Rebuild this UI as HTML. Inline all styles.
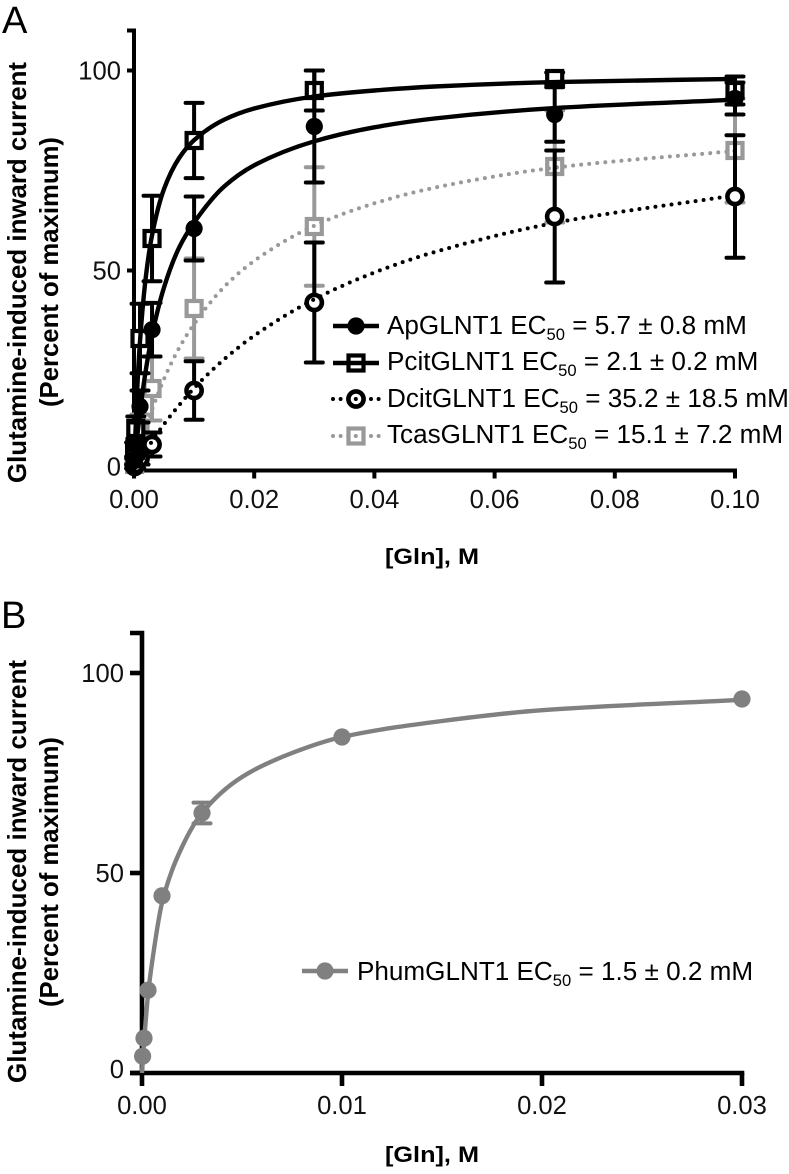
<!DOCTYPE html>
<html lang="en">
<head>
<meta charset="utf-8">
<title>Glutamine-induced inward current dose-response curves</title>
<style>
html,body{margin:0;padding:0;background:#fff;}
svg{display:block;font-family:"Liberation Sans",Arial,sans-serif;}
.tick{font-size:25.6px;fill:#111;}
.title{font-size:25.8px;font-weight:bold;fill:#000;}
.xtitle{font-size:22.5px;font-weight:bold;fill:#000;}
.leg{font-size:26.1px;fill:#000;}
.sub{font-size:16.6px;}
.panel{font-size:38px;fill:#000;}
</style>
</head>
<body>
<svg id="chart" width="789" height="1174" viewBox="0 0 789 1174" xmlns="http://www.w3.org/2000/svg">
  <rect width="789" height="1174" fill="#fff"/>
  <text class="panel" x="2" y="33">A</text>
  <text class="panel" x="1" y="628">B</text>

  <text class="title" transform="translate(26,483) rotate(-90)" textLength="421" lengthAdjust="spacingAndGlyphs">Glutamine-induced inward current</text>
  <text class="title" transform="translate(58,407) rotate(-90)" textLength="270" lengthAdjust="spacingAndGlyphs">(Percent of maximum)</text>
  <text class="xtitle" x="385" y="564" textLength="94" lengthAdjust="spacingAndGlyphs">[Gln], M</text>

  <text class="title" transform="translate(26,1083) rotate(-90)" textLength="423" lengthAdjust="spacingAndGlyphs">Glutamine-induced inward current</text>
  <text class="title" transform="translate(58,1007) rotate(-90)" textLength="270" lengthAdjust="spacingAndGlyphs">(Percent of maximum)</text>
  <text class="xtitle" x="385" y="1162" textLength="94" lengthAdjust="spacingAndGlyphs">[Gln], M</text>

  <g id="plotA"></g>
  <g id="plotB"></g>

  <text class="leg" x="387" y="334">ApGLNT1 EC<tspan class="sub" dy="6">50</tspan><tspan dy="-6"> = 5.7 ± 0.8 mM</tspan></text>
  <text class="leg" x="387" y="370">PcitGLNT1 EC<tspan class="sub" dy="6">50</tspan><tspan dy="-6"> = 2.1 ± 0.2 mM</tspan></text>
  <text class="leg" x="387" y="407">DcitGLNT1 EC<tspan class="sub" dy="6">50</tspan><tspan dy="-6"> = 35.2 ± 18.5 mM</tspan></text>
  <text class="leg" x="387" y="443">TcasGLNT1 EC<tspan class="sub" dy="6">50</tspan><tspan dy="-6"> = 15.1 ± 7.2 mM</tspan></text>
  <text class="leg" x="357" y="980">PhumGLNT1 EC<tspan class="sub" dy="6">50</tspan><tspan dy="-6"> = 1.5 ± 0.2 mM</tspan></text>
</svg>
<script>
// Panel A data
const concA = [0.0001, 0.0003, 0.001, 0.003, 0.01, 0.03, 0.07, 0.1];
const tcasMean = [1.5, 3, 10, 20.5, 40.5, 61, 76, 80];
const tcasErr = [0.5, 1, 4, 8, 12.5, 14.8, 14, 13];
const dcitMean = [1, 1.5, 3, 6.5, 20, 42, 63.5, 68.5];
const dcitErr = [0.5, 1, 1.5, 3, 7.3, 15, 16.5, 15.3];
const pcitMean = [5, 10.5, 33, 58, 82.5, 95, 98, 95];
const pcitErr = [2, 3, 8.7, 10.7, 9.4, 5, 1.5, 3.5];
const apMean = [2.5, 6, 16, 35.2, 60.5, 86, 89, 93];
const apErr = [1, 2, 4, 6.7, 8, 14, 6.8, 4];

const curveXA = [0, 0.0005, 0.001, 0.002, 0.003, 0.005, 0.0075, 0.01, 0.015, 0.02, 0.03, 0.04, 0.05, 0.07, 0.1];
const tcasCurve = [0, 2.9, 5.7, 10.8, 15.2, 22.9, 30.6, 36.6, 45.9, 52.4, 61.2, 66.8, 70.7, 75.7, 79.9];
const dcitCurve = [0, 1.3, 2.6, 5, 7.3, 11.6, 16.3, 20.6, 27.8, 33.7, 42.8, 49.5, 54.6, 61.9, 68.8];
const pcitCurve = [0, 19.2, 32.3, 48.8, 58.8, 70.4, 78.1, 82.6, 87.7, 90.5, 93.5, 95, 96, 97.1, 97.9];
const apCurve = [0, 7.9, 14.6, 25.4, 33.8, 45.8, 55.7, 62, 71, 76.3, 82.3, 85.8, 88, 90.6, 92.7];

const xTicksA = [0, 0.02, 0.04, 0.06, 0.08, 0.1];
const xTickLabelsA = ['0.00', '0.02', '0.04', '0.06', '0.08', '0.10'];

// Panel B data
const concB = [0.00003, 0.0001, 0.0003, 0.001, 0.003, 0.01, 0.03];
const phumMean = [4.2, 8.7, 20.7, 44.3, 65, 84, 93.5];
const phumErr = [0, 0, 0, 0, 2.6, 0, 0];
const curveXB = [0, 0.0001, 0.0003, 0.0005, 0.001, 0.002, 0.003, 0.005, 0.0075, 0.01, 0.015, 0.02, 0.03];
const phumCurve = [0, 7.5, 19.5, 27.5, 42.5, 56.5, 65, 74, 80, 84, 88, 90.7, 93.3];
const xTicksB = [0, 0.01, 0.02, 0.03];
const xTickLabelsB = ['0.00', '0.01', '0.02', '0.03'];

const yTicks = [0, 50, 100];
const yTop = 110;

const NS = 'http://www.w3.org/2000/svg';
const xA = v => 134 + 6010 * v;
const yA = v => 470.5 - 4 * v;
const xB = v => 142 + 20000 * v;
const yB = v => 1073 - 4 * v;

function add(parent, tag, attrs, name) {
  const node = document.createElementNS(NS, tag);
  for (const k in attrs) node.setAttribute(k, attrs[k]);
  
  
  parent.appendChild(node);
  return node;
}

// Monotone cubic path (handles the uneven spacing of the curve samples)
function smoothPath(pts) {
  const n = pts.length, h = [], m = [], t = [];
  for (let i = 0; i < n - 1; i++) {
    h[i] = pts[i + 1][0] - pts[i][0];
    m[i] = (pts[i + 1][1] - pts[i][1]) / h[i];
  }
  t[0] = m[0];
  t[n - 1] = m[n - 2];
  for (let i = 1; i < n - 1; i++) {
    const w1 = 2 * h[i] + h[i - 1], w2 = h[i] + 2 * h[i - 1];
    t[i] = (w1 + w2) / (w1 / m[i - 1] + w2 / m[i]);
  }
  let d = 'M' + pts[0][0].toFixed(2) + ' ' + pts[0][1].toFixed(2);
  for (let i = 0; i < n - 1; i++) {
    const c1x = pts[i][0] + h[i] / 3, c1y = pts[i][1] + t[i] * h[i] / 3;
    const c2x = pts[i + 1][0] - h[i] / 3, c2y = pts[i + 1][1] - t[i + 1] * h[i] / 3;
    d += 'C' + c1x.toFixed(2) + ' ' + c1y.toFixed(2) + ' ' + c2x.toFixed(2) + ' ' + c2y.toFixed(2) + ' ' + pts[i + 1][0].toFixed(2) + ' ' + pts[i + 1][1].toFixed(2);
  }
  return d;
}

function marker(g, kind, cx, cy, color, name) {
  if (kind === 'disc') {
    add(g, 'circle', {cx: cx, cy: cy, r: 8.6, fill: color}, name);
  } else if (kind === 'ring') {
    add(g, 'circle', {cx: cx, cy: cy, r: 7.6, fill: '#fff', stroke: color, 'stroke-width': 4.6}, name);
  } else {
    add(g, 'rect', {x: cx - 7.5, y: cy - 7.5, width: 15, height: 15, fill: '#fff', stroke: color, 'stroke-width': 4.2}, name);
  }
}

function drawSeries(parent, s, X, Y) {
  const g = add(parent, 'g', {}, 'series-' + s.name);
  s.conc.forEach((c, i) => {
    const e = s.err[i];
    if (e > 0) {
      const px = X(c), hi = Y(s.mean[i] + e), lo = Y(s.mean[i] - e);
      add(g, 'path', {d: 'M' + px + ' ' + hi + 'V' + lo + 'M' + (px - 8.5) + ' ' + hi + 'H' + (px + 8.5) + 'M' + (px - 8.5) + ' ' + lo + 'H' + (px + 8.5), fill: 'none', stroke: s.color, 'stroke-width': 4, 'stroke-linecap': 'round'}, s.name + '-error-bar');
    }
  });
  s.conc.forEach((c, i) => {
    marker(g, s.kind, X(c), Y(s.mean[i]), s.color, s.name + '-point');
  });
  const attrs = {d: smoothPath(s.curveX.map((c, i) => [X(c), Y(s.curve[i])])), fill: 'none', stroke: s.color, 'stroke-width': s.dotted ? 4 : 4.4};
  if (s.dotted) { attrs['stroke-dasharray'] = '0 8.1'; attrs['stroke-linecap'] = 'round'; }
  add(g, 'path', attrs, s.name + '-fit-curve');
}

function drawAxes(parent, prefix, X, Y, xTicks, xLabels, width, tickLen, labelBaseline) {
  const x0 = X(0), y0 = Y(0);
  add(parent, 'path', {d: 'M' + (x0 - tickLen) + ' ' + Y(yTop) + 'H' + x0 + 'V' + (y0 + width / 2), fill: 'none', stroke: '#000', 'stroke-width': width}, prefix + '-y-axis');
  add(parent, 'path', {d: 'M' + (x0 - tickLen) + ' ' + y0 + 'H' + (X(xTicks[xTicks.length - 1]) + width / 2), fill: 'none', stroke: '#000', 'stroke-width': width}, prefix + '-x-axis');
  yTicks.forEach(v => {
    add(parent, 'path', {d: 'M' + (x0 - tickLen) + ' ' + Y(v) + 'H' + x0, stroke: '#000', 'stroke-width': width}, prefix + '-y-tick');
    const t = add(parent, 'text', {class: 'tick', x: x0 - tickLen - 6, y: Y(v) + (v === 0 ? 5 : 9), 'text-anchor': 'end'}, prefix + '-y-tick-label');
    t.textContent = String(v);
  });
  xTicks.forEach((v, i) => {
    add(parent, 'path', {d: 'M' + X(v) + ' ' + y0 + 'V' + (y0 + tickLen + 1), stroke: '#000', 'stroke-width': width}, prefix + '-x-tick');
    const t = add(parent, 'text', {class: 'tick', x: X(v), y: labelBaseline, 'text-anchor': 'middle'}, prefix + '-x-tick-label');
    t.textContent = xLabels[i];
  });
}

function legendKey(parent, s, cx, cy) {
  const attrs = {d: 'M' + (cx - 23) + ' ' + cy + 'H' + (cx + 23), fill: 'none', stroke: s.color, 'stroke-width': s.dotted ? 4 : 4.4};
  if (s.dotted) { attrs['stroke-dasharray'] = '0 7.6'; attrs['stroke-linecap'] = 'round'; }
  const g = add(parent, 'g', {}, 'legend-key-' + s.name);
  marker(g, s.kind, cx, cy, s.color, s.name + '-legend-marker');
  add(g, 'path', attrs, s.name + '-legend-line');
}

const seriesA = [
  {name: 'tcasglnt1', kind: 'square', color: '#999999', dotted: true, conc: concA, mean: tcasMean, err: tcasErr, curveX: curveXA, curve: tcasCurve, ly: 436},
  {name: 'dcitglnt1', kind: 'ring', color: '#000000', dotted: true, conc: concA, mean: dcitMean, err: dcitErr, curveX: curveXA, curve: dcitCurve, ly: 399},
  {name: 'pcitglnt1', kind: 'square', color: '#000000', dotted: false, conc: concA, mean: pcitMean, err: pcitErr, curveX: curveXA, curve: pcitCurve, ly: 363},
  {name: 'apglnt1', kind: 'disc', color: '#000000', dotted: false, conc: concA, mean: apMean, err: apErr, curveX: curveXA, curve: apCurve, ly: 326}
];
const seriesB = {name: 'phumglnt1', kind: 'disc', color: '#808080', dotted: false, conc: concB, mean: phumMean, err: phumErr, curveX: curveXB, curve: phumCurve};

const plotA = document.getElementById('plotA');
const plotB = document.getElementById('plotB');
drawAxes(plotA, 'a', xA, yA, xTicksA, xTickLabelsA, 4, 7, 508);
drawAxes(plotB, 'b', xB, yB, xTicksB, xTickLabelsB, 4.6, 12, 1114);
seriesA.forEach(s => drawSeries(plotA, s, xA, yA));
drawSeries(plotB, seriesB, xB, yB);
seriesA.forEach(s => legendKey(plotA, s, 356, s.ly));
legendKey(plotB, seriesB, 325, 971);
</script>
</body>
</html>
